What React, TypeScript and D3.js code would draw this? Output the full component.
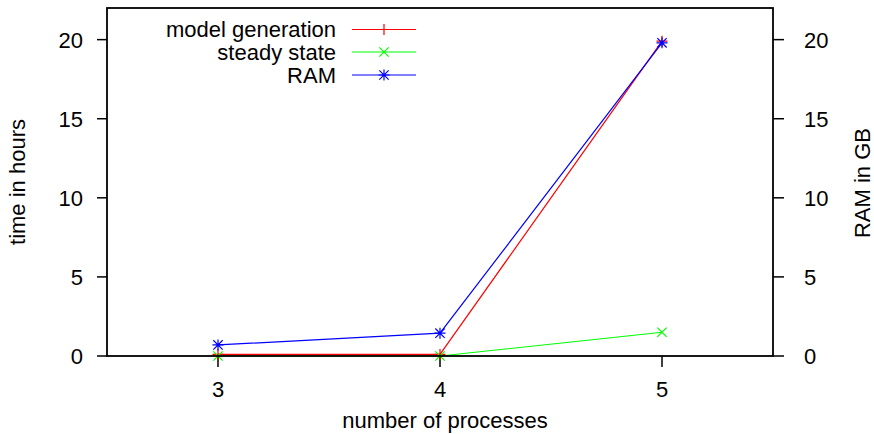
import React from "react";
import * as d3 from "d3";

// number of processes on the x axis
const processes = [3, 4, 5];
// hours spent generating the model
const modelGeneration = [0.1, 0.1, 19.9];
// hours spent computing the steady state
const steadyState = [0, 0, 1.5];
// memory use in GB (right axis)
const ram = [0.7, 1.44, 19.8];

const xTicks = [3, 4, 5];
const yTicks = [0, 5, 10, 15, 20];

const W = 874;
const H = 434;
const M = { left: 107, right: 773, top: 8, bottom: 356 };
const FONT = "'Liberation Sans', Arial, Helvetica, sans-serif";
const FS = 22;

type Shape = "plus" | "cross" | "star";

function markerPath(shape: Shape, r: number): string {
  const plus = `M${-r},0H${r}M0,${-r}V${r}`;
  const c = r * 0.85;
  const cross = `M${-c},${-c}L${c},${c}M${-c},${c}L${c},${-c}`;
  if (shape === "plus") return plus;
  if (shape === "cross") return cross;
  return plus + cross;
}

const series = [
  { name: "model generation", values: modelGeneration, color: "#ff0000", shape: "plus" as Shape },
  { name: "steady state", values: steadyState, color: "#00ff00", shape: "cross" as Shape },
  { name: "RAM", values: ram, color: "#0000ff", shape: "star" as Shape },
];

export default function App() {
  const x = d3.scaleLinear().domain([2.5, 5.5]).range([M.left, M.right]);
  const y = d3.scaleLinear().domain([0, 22]).range([M.bottom, M.top]);
  const yRight = d3.scaleLinear().domain([0, 22]).range([M.bottom, M.top]);

  const line = (vals: number[], scale: d3.ScaleLinear<number, number>) =>
    d3
      .line<number>()
      .x((_, i) => x(processes[i]))
      .y((v) => scale(v))(vals) as string;

  const legendY = [29.5, 52, 75];
  const legendTextRight = 336;
  const legendLine = [352, 416];
  const legendMarkX = 384;

  return (
    <svg
      width={W}
      height={H}
      style={{ position: "absolute", left: 0, top: 0, background: "#fff" }}
      fontFamily={FONT}
      fontSize={FS}
    >
      <rect x={0} y={0} width={W} height={H} fill="#fff" />

      {/* left axis ticks and labels */}
      {yTicks.map((t) => (
        <g key={"yl" + t}>
          <line x1={M.left - 10} x2={M.left} y1={y(t)} y2={y(t)} stroke="#000" strokeWidth={1.5} />
          <text x={83} y={y(t)} dy="0.36em" textAnchor="end" fill="#000">
            {t}
          </text>
        </g>
      ))}

      {/* right axis ticks and labels */}
      {yTicks.map((t) => (
        <g key={"yr" + t}>
          <line x1={M.right} x2={M.right + 11} y1={yRight(t)} y2={yRight(t)} stroke="#000" strokeWidth={1.5} />
          <text x={804} y={yRight(t)} dy="0.36em" textAnchor="start" fill="#000">
            {t}
          </text>
        </g>
      ))}

      {/* bottom axis ticks and labels */}
      {xTicks.map((t) => (
        <g key={"x" + t}>
          <line x1={x(t)} x2={x(t)} y1={M.bottom} y2={M.bottom + 11} stroke="#000" strokeWidth={1.5} />
          <text x={x(t)} y={397} textAnchor="middle" fill="#000">
            {t}
          </text>
        </g>
      ))}

      {/* data series */}
      {series.map((s) => {
        const scale = s.name === "RAM" ? yRight : y;
        return (
          <g key={s.name}>
            <path d={line(s.values, scale)} fill="none" stroke={s.color} strokeWidth={1.2} />
            {s.values.map((v, i) => (
              <path
                key={i}
                d={markerPath(s.shape, 5.5)}
                transform={`translate(${x(processes[i])},${scale(v)})`}
                fill="none"
                stroke={s.color}
                strokeWidth={1.2}
              />
            ))}
          </g>
        );
      })}

      {/* plot border */}
      <rect
        x={M.left}
        y={M.top}
        width={M.right - M.left}
        height={M.bottom - M.top}
        fill="none"
        stroke="#000"
        strokeWidth={1.8}
      />

      {/* legend */}
      {series.map((s, i) => (
        <g key={"lg" + s.name}>
          <text x={legendTextRight} y={legendY[i]} dy="0.35em" textAnchor="end" fill="#000">
            {s.name}
          </text>
          <line
            x1={legendLine[0]}
            x2={legendLine[1]}
            y1={legendY[i]}
            y2={legendY[i]}
            stroke={s.color}
            strokeWidth={1.2}
          />
          <path
            d={markerPath(s.shape, 5.5)}
            transform={`translate(${legendMarkX},${legendY[i]})`}
            fill="none"
            stroke={s.color}
            strokeWidth={1.2}
          />
        </g>
      ))}

      {/* axis titles */}
      <text x={445} y={428} textAnchor="middle" fill="#000">
        number of processes
      </text>
      <text transform="translate(25,182) rotate(-90)" textAnchor="middle" fill="#000">
        time in hours
      </text>
      <text transform="translate(870,183) rotate(-90)" textAnchor="middle" fill="#000">
        RAM in GB
      </text>
    </svg>
  );
}
